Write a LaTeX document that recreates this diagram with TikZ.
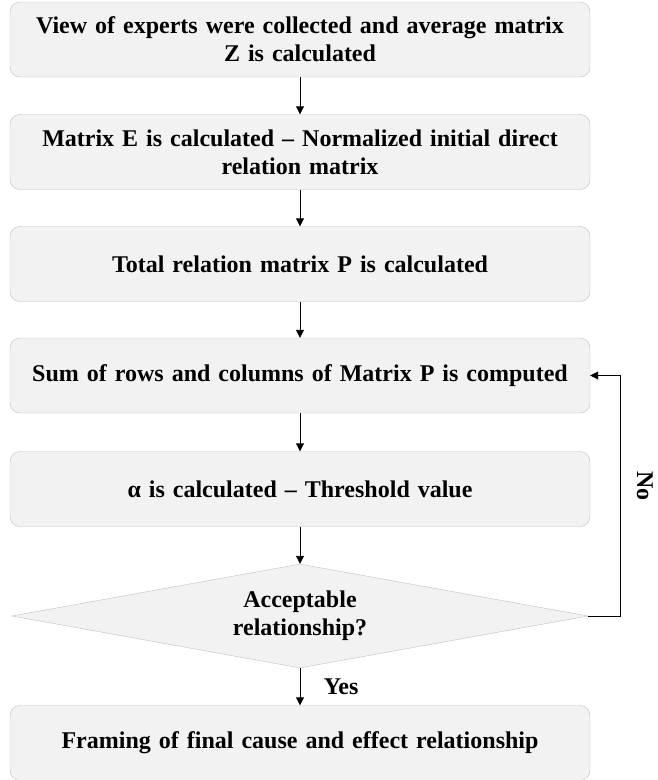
\documentclass[tikz,border=0pt]{standalone}
\usepackage{fontspec}
\setmainfont{Liberation Serif}
\usetikzlibrary{shapes.geometric,arrows.meta}

\tikzset{
  stepbox/.style={draw=black!25, fill=black!5, rounded corners=10pt,
    minimum width=580pt, minimum height=75pt, inner sep=0pt,
    text width=570pt, align=center,
    font=\bfseries\fontsize{24}{28}\selectfont},
  checkbox/.style={diamond, draw=black!25, fill=black!5, aspect=5.5,
    minimum width=576pt, minimum height=104pt, inner sep=0pt,
    align=center, font=\bfseries\fontsize{24}{28}\selectfont},
  flow/.style={-{Triangle[length=8pt,width=8pt]}, line width=0.9pt},
  lbl/.style={font=\bfseries\fontsize{24}{28}\selectfont}
}

\begin{document}
\begin{tikzpicture}

\newcommand\CX{300}

  \useasboundingbox (0pt,0pt) rectangle (657pt,-780pt);

  %% steps
  \node[stepbox] (collect) at (\CX pt,-39.5pt)
  {View of experts were collected and average matrix\\ Z is calculated};
  \node[stepbox] (normal) at (\CX pt,-152pt)
  {Matrix E is calculated -- Normalized initial direct\\ relation matrix};
  \node[stepbox] (total) at (\CX pt,-264pt)
  {Total relation matrix P is calculated};
  \node[stepbox] (sums) at (\CX pt,-375.5pt)
  {Sum of rows and columns of Matrix P is computed};
  \node[stepbox] (alpha) at (\CX pt,-489pt)
  {α is calculated -- Threshold value};
  \node[checkbox] (accept) at (\CX pt,-616pt)
  {Acceptable\\ relationship?};
  \node[stepbox] (frame) at (\CX pt,-743pt)
  {Framing of final cause and effect relationship};

  %% step to step
  \draw[flow] (collect) -- (normal);
  \draw[flow] (normal) -- (total);
  \draw[flow] (total) -- (sums);
  \draw[flow] (sums) -- (alpha);
  \draw[flow] (alpha) -- (accept);
  \draw[flow] (accept) -- node[lbl, anchor=west, xshift=20pt]{Yes} (frame);

  %% back loop
  \draw[flow] (accept.east) -- ++(32pt,0pt) |-
  node[lbl, pos=0.27, rotate=-90, anchor=south, yshift=13pt]{No} (sums.east);

\end{tikzpicture}
\end{document}
